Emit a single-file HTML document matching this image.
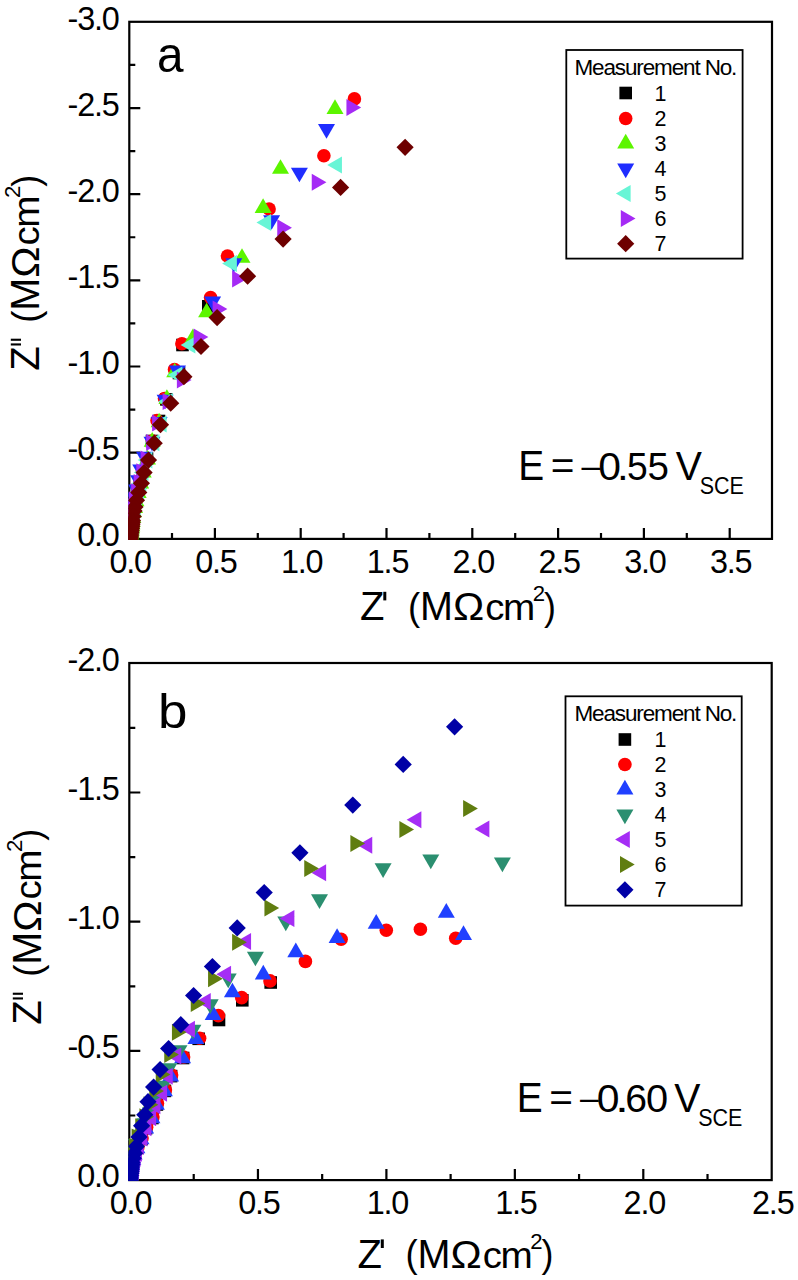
<!DOCTYPE html><html><head><meta charset="utf-8"><style>html,body{margin:0;padding:0;background:#fff;}svg{display:block;}text{font-family:"Liberation Sans", sans-serif;fill:#000;}</style></head><body>
<svg width="798" height="1280" viewBox="0 0 798 1280">
<rect width="798" height="1280" fill="#fff"/>
<defs><clipPath id="clipa"><rect x="128.30" y="20.80" width="644.70" height="519.10"/></clipPath></defs>
<rect x="129.30" y="21.80" width="642.70" height="517.10" fill="none" stroke="#000" stroke-width="2.20"/>
<path d="M172.00 538.90V532.90M214.90 538.90V527.90M257.80 538.90V532.90M300.70 538.90V527.90M343.60 538.90V532.90M386.50 538.90V527.90M429.40 538.90V532.90M472.30 538.90V527.90M515.20 538.90V532.90M558.10 538.90V527.90M601.00 538.90V532.90M643.90 538.90V527.90M686.80 538.90V532.90M729.70 538.90V527.90M129.30 495.72H135.30M129.30 452.65H140.30M129.30 409.57H135.30M129.30 366.50H140.30M129.30 323.42H135.30M129.30 280.35H140.30M129.30 237.27H135.30M129.30 194.20H140.30M129.30 151.12H135.30M129.30 108.05H140.30M129.30 64.97H135.30" stroke="#000" stroke-width="2.20" fill="none"/>
<g clip-path="url(#clipa)">
<rect x="202.00" y="300.00" width="12.60" height="12.60" fill="#000000"/>
<rect x="176.20" y="338.70" width="12.60" height="12.60" fill="#000000"/>
<rect x="172.70" y="366.70" width="12.60" height="12.60" fill="#000000"/>
<rect x="160.10" y="393.10" width="12.60" height="12.60" fill="#000000"/>
<rect x="152.70" y="414.70" width="12.60" height="12.60" fill="#000000"/>
<rect x="145.70" y="434.70" width="12.60" height="12.60" fill="#000000"/>
<rect x="140.70" y="452.30" width="12.60" height="12.60" fill="#000000"/>
<rect x="136.52" y="465.03" width="12.60" height="12.60" fill="#000000"/>
<rect x="134.05" y="475.95" width="12.60" height="12.60" fill="#000000"/>
<rect x="131.60" y="485.20" width="12.60" height="12.60" fill="#000000"/>
<rect x="129.45" y="493.25" width="12.60" height="12.60" fill="#000000"/>
<rect x="128.02" y="499.92" width="12.60" height="12.60" fill="#000000"/>
<rect x="127.10" y="504.10" width="12.60" height="12.60" fill="#000000"/>
<rect x="126.37" y="509.68" width="12.60" height="12.60" fill="#000000"/>
<rect x="125.75" y="513.85" width="12.60" height="12.60" fill="#000000"/>
<rect x="125.58" y="515.97" width="12.60" height="12.60" fill="#000000"/>
<rect x="125.41" y="518.09" width="12.60" height="12.60" fill="#000000"/>
<rect x="125.17" y="520.13" width="12.60" height="12.60" fill="#000000"/>
<rect x="124.92" y="522.18" width="12.60" height="12.60" fill="#000000"/>
<rect x="124.68" y="524.22" width="12.60" height="12.60" fill="#000000"/>
<rect x="124.43" y="526.27" width="12.60" height="12.60" fill="#000000"/>
<rect x="124.19" y="528.31" width="12.60" height="12.60" fill="#000000"/>
<rect x="123.94" y="530.36" width="12.60" height="12.60" fill="#000000"/>
<rect x="123.70" y="532.40" width="12.60" height="12.60" fill="#000000"/>
<circle cx="354.40" cy="98.90" r="6.80" fill="#ff0000"/>
<circle cx="323.90" cy="155.80" r="6.80" fill="#ff0000"/>
<circle cx="269.10" cy="209.00" r="6.80" fill="#ff0000"/>
<circle cx="227.50" cy="256.00" r="6.80" fill="#ff0000"/>
<circle cx="210.60" cy="297.50" r="6.80" fill="#ff0000"/>
<circle cx="181.90" cy="343.80" r="6.80" fill="#ff0000"/>
<circle cx="174.50" cy="369.50" r="6.80" fill="#ff0000"/>
<circle cx="164.50" cy="398.50" r="6.80" fill="#ff0000"/>
<circle cx="157.00" cy="420.50" r="6.80" fill="#ff0000"/>
<circle cx="152.50" cy="441.00" r="6.80" fill="#ff0000"/>
<circle cx="146.50" cy="458.60" r="6.80" fill="#ff0000"/>
<circle cx="142.40" cy="471.33" r="6.80" fill="#ff0000"/>
<circle cx="140.00" cy="482.25" r="6.80" fill="#ff0000"/>
<circle cx="137.60" cy="491.50" r="6.80" fill="#ff0000"/>
<circle cx="135.50" cy="499.55" r="6.80" fill="#ff0000"/>
<circle cx="134.10" cy="506.22" r="6.80" fill="#ff0000"/>
<circle cx="133.20" cy="510.40" r="6.80" fill="#ff0000"/>
<circle cx="132.50" cy="515.98" r="6.80" fill="#ff0000"/>
<circle cx="131.90" cy="520.15" r="6.80" fill="#ff0000"/>
<circle cx="131.76" cy="522.27" r="6.80" fill="#ff0000"/>
<circle cx="131.61" cy="524.39" r="6.80" fill="#ff0000"/>
<circle cx="131.37" cy="526.43" r="6.80" fill="#ff0000"/>
<circle cx="131.12" cy="528.48" r="6.80" fill="#ff0000"/>
<circle cx="130.88" cy="530.52" r="6.80" fill="#ff0000"/>
<circle cx="130.63" cy="532.57" r="6.80" fill="#ff0000"/>
<circle cx="130.39" cy="534.61" r="6.80" fill="#ff0000"/>
<circle cx="130.14" cy="536.66" r="6.80" fill="#ff0000"/>
<circle cx="129.90" cy="538.70" r="6.80" fill="#ff0000"/>
<polygon points="335.00,99.35 343.50,114.05 326.50,114.05" fill="#5cf500"/>
<polygon points="280.50,159.15 289.00,173.85 272.00,173.85" fill="#5cf500"/>
<polygon points="263.10,198.35 271.60,213.05 254.60,213.05" fill="#5cf500"/>
<polygon points="242.00,248.15 250.50,262.85 233.50,262.85" fill="#5cf500"/>
<polygon points="206.60,302.65 215.10,317.35 198.10,317.35" fill="#5cf500"/>
<polygon points="192.90,328.45 201.40,343.15 184.40,343.15" fill="#5cf500"/>
<polygon points="174.70,362.65 183.20,377.35 166.20,377.35" fill="#5cf500"/>
<polygon points="166.90,389.35 175.40,404.05 158.40,404.05" fill="#5cf500"/>
<polygon points="159.10,412.65 167.60,427.35 150.60,427.35" fill="#5cf500"/>
<polygon points="152.20,432.05 160.70,446.75 143.70,446.75" fill="#5cf500"/>
<polygon points="147.50,449.75 156.00,464.45 139.00,464.45" fill="#5cf500"/>
<polygon points="143.25,462.70 151.75,477.40 134.75,477.40" fill="#5cf500"/>
<polygon points="140.70,473.85 149.20,488.55 132.20,488.55" fill="#5cf500"/>
<polygon points="138.20,483.25 146.70,497.95 129.70,497.95" fill="#5cf500"/>
<polygon points="136.00,491.45 144.50,506.15 127.50,506.15" fill="#5cf500"/>
<polygon points="134.55,498.20 143.05,512.90 126.05,512.90" fill="#5cf500"/>
<polygon points="133.60,502.45 142.10,517.15 125.10,517.15" fill="#5cf500"/>
<polygon points="132.85,508.10 141.35,522.80 124.35,522.80" fill="#5cf500"/>
<polygon points="132.20,512.35 140.70,527.05 123.70,527.05" fill="#5cf500"/>
<polygon points="132.01,514.54 140.51,529.24 123.51,529.24" fill="#5cf500"/>
<polygon points="131.81,516.74 140.31,531.44 123.31,531.44" fill="#5cf500"/>
<polygon points="131.57,518.78 140.07,533.48 123.07,533.48" fill="#5cf500"/>
<polygon points="131.32,520.83 139.82,535.53 122.82,535.53" fill="#5cf500"/>
<polygon points="131.08,522.87 139.58,537.57 122.58,537.57" fill="#5cf500"/>
<polygon points="130.83,524.92 139.33,539.62 122.33,539.62" fill="#5cf500"/>
<polygon points="130.59,526.96 139.09,541.66 122.09,541.66" fill="#5cf500"/>
<polygon points="130.34,529.01 138.84,543.71 121.84,543.71" fill="#5cf500"/>
<polygon points="130.10,531.05 138.60,545.75 121.60,545.75" fill="#5cf500"/>
<polygon points="318.00,124.05 335.00,124.05 326.50,138.75" fill="#1f2dff"/>
<polygon points="290.90,167.65 307.90,167.65 299.40,182.35" fill="#1f2dff"/>
<polygon points="263.10,215.15 280.10,215.15 271.60,229.85" fill="#1f2dff"/>
<polygon points="225.30,258.15 242.30,258.15 233.80,272.85" fill="#1f2dff"/>
<polygon points="204.10,296.45 221.10,296.45 212.60,311.15" fill="#1f2dff"/>
<polygon points="169.00,365.45 186.00,365.45 177.50,380.15" fill="#1f2dff"/>
<polygon points="156.60,394.65 173.60,394.65 165.10,409.35" fill="#1f2dff"/>
<polygon points="150.60,417.05 167.60,417.05 159.10,431.75" fill="#1f2dff"/>
<polygon points="143.50,436.65 160.50,436.65 152.00,451.35" fill="#1f2dff"/>
<polygon points="136.00,451.75 153.00,451.75 144.50,466.45" fill="#1f2dff"/>
<polygon points="132.20,464.40 149.20,464.40 140.70,479.10" fill="#1f2dff"/>
<polygon points="130.10,475.25 147.10,475.25 138.60,489.95" fill="#1f2dff"/>
<polygon points="127.90,484.45 144.90,484.45 136.40,499.15" fill="#1f2dff"/>
<polygon points="126.00,492.45 143.00,492.45 134.50,507.15" fill="#1f2dff"/>
<polygon points="124.70,499.10 141.70,499.10 133.20,513.80" fill="#1f2dff"/>
<polygon points="123.90,503.25 140.90,503.25 132.40,517.95" fill="#1f2dff"/>
<polygon points="123.30,508.80 140.30,508.80 131.80,523.50" fill="#1f2dff"/>
<polygon points="122.80,512.95 139.80,512.95 131.30,527.65" fill="#1f2dff"/>
<polygon points="122.76,515.04 139.76,515.04 131.26,529.74" fill="#1f2dff"/>
<polygon points="122.71,517.14 139.71,517.14 131.21,531.84" fill="#1f2dff"/>
<polygon points="122.47,519.18 139.47,519.18 130.97,533.88" fill="#1f2dff"/>
<polygon points="122.22,521.23 139.22,521.23 130.72,535.93" fill="#1f2dff"/>
<polygon points="121.98,523.27 138.98,523.27 130.48,537.97" fill="#1f2dff"/>
<polygon points="121.73,525.32 138.73,525.32 130.23,540.02" fill="#1f2dff"/>
<polygon points="121.49,527.36 138.49,527.36 129.99,542.06" fill="#1f2dff"/>
<polygon points="121.24,529.41 138.24,529.41 129.74,544.11" fill="#1f2dff"/>
<polygon points="121.00,531.45 138.00,531.45 129.50,546.15" fill="#1f2dff"/>
<polygon points="327.25,165.00 341.95,156.50 341.95,173.50" fill="#68f5d6"/>
<polygon points="256.45,222.60 271.15,214.10 271.15,231.10" fill="#68f5d6"/>
<polygon points="222.15,263.50 236.85,255.00 236.85,272.00" fill="#68f5d6"/>
<polygon points="180.65,345.00 195.35,336.50 195.35,353.50" fill="#68f5d6"/>
<polygon points="167.65,375.00 182.35,366.50 182.35,383.50" fill="#68f5d6"/>
<polygon points="158.15,401.60 172.85,393.10 172.85,410.10" fill="#68f5d6"/>
<polygon points="151.95,424.00 166.65,415.50 166.65,432.50" fill="#68f5d6"/>
<polygon points="144.65,442.70 159.35,434.20 159.35,451.20" fill="#68f5d6"/>
<polygon points="137.65,460.10 152.35,451.60 152.35,468.60" fill="#68f5d6"/>
<polygon points="133.78,472.60 148.47,464.10 148.47,481.10" fill="#68f5d6"/>
<polygon points="131.60,483.30 146.30,474.80 146.30,491.80" fill="#68f5d6"/>
<polygon points="129.35,492.40 144.05,483.90 144.05,500.90" fill="#68f5d6"/>
<polygon points="127.40,500.30 142.10,491.80 142.10,508.80" fill="#68f5d6"/>
<polygon points="126.08,506.90 140.78,498.40 140.78,515.40" fill="#68f5d6"/>
<polygon points="125.25,511.00 139.95,502.50 139.95,519.50" fill="#68f5d6"/>
<polygon points="124.62,516.50 139.32,508.00 139.32,525.00" fill="#68f5d6"/>
<polygon points="124.10,520.60 138.80,512.10 138.80,529.10" fill="#68f5d6"/>
<polygon points="124.03,522.64 138.73,514.14 138.73,531.14" fill="#68f5d6"/>
<polygon points="123.96,524.69 138.66,516.19 138.66,533.19" fill="#68f5d6"/>
<polygon points="123.72,526.73 138.42,518.23 138.42,535.23" fill="#68f5d6"/>
<polygon points="123.47,528.78 138.17,520.28 138.17,537.28" fill="#68f5d6"/>
<polygon points="123.23,530.82 137.93,522.32 137.93,539.32" fill="#68f5d6"/>
<polygon points="122.98,532.87 137.68,524.37 137.68,541.37" fill="#68f5d6"/>
<polygon points="122.74,534.91 137.44,526.41 137.44,543.41" fill="#68f5d6"/>
<polygon points="122.49,536.96 137.19,528.46 137.19,545.46" fill="#68f5d6"/>
<polygon points="122.25,539.00 136.95,530.50 136.95,547.50" fill="#68f5d6"/>
<polygon points="346.45,98.90 361.15,107.40 346.45,115.90" fill="#a52af5"/>
<polygon points="311.75,173.80 326.45,182.30 311.75,190.80" fill="#a52af5"/>
<polygon points="277.25,219.30 291.95,227.80 277.25,236.30" fill="#a52af5"/>
<polygon points="232.15,270.50 246.85,279.00 232.15,287.50" fill="#a52af5"/>
<polygon points="212.65,300.50 227.35,309.00 212.65,317.50" fill="#a52af5"/>
<polygon points="193.65,328.50 208.35,337.00 193.65,345.50" fill="#a52af5"/>
<polygon points="176.85,371.40 191.55,379.90 176.85,388.40" fill="#a52af5"/>
<polygon points="162.65,393.10 177.35,401.60 162.65,410.10" fill="#a52af5"/>
<polygon points="152.15,414.50 166.85,423.00 152.15,431.50" fill="#a52af5"/>
<polygon points="146.15,434.00 160.85,442.50 146.15,451.00" fill="#a52af5"/>
<polygon points="140.65,450.60 155.35,459.10 140.65,467.60" fill="#a52af5"/>
<polygon points="136.32,463.25 151.02,471.75 136.32,480.25" fill="#a52af5"/>
<polygon points="133.70,474.10 148.40,482.60 133.70,491.10" fill="#a52af5"/>
<polygon points="131.15,483.30 145.85,491.80 131.15,500.30" fill="#a52af5"/>
<polygon points="128.90,491.30 143.60,499.80 128.90,508.30" fill="#a52af5"/>
<polygon points="127.43,497.95 142.12,506.45 127.43,514.95" fill="#a52af5"/>
<polygon points="126.45,502.10 141.15,510.60 126.45,519.10" fill="#a52af5"/>
<polygon points="125.67,507.65 140.37,516.15 125.67,524.65" fill="#a52af5"/>
<polygon points="125.00,511.80 139.70,520.30 125.00,528.80" fill="#a52af5"/>
<polygon points="124.78,513.89 139.48,522.39 124.78,530.89" fill="#a52af5"/>
<polygon points="124.56,515.99 139.26,524.49 124.56,532.99" fill="#a52af5"/>
<polygon points="124.32,518.03 139.02,526.53 124.32,535.03" fill="#a52af5"/>
<polygon points="124.07,520.08 138.77,528.58 124.07,537.08" fill="#a52af5"/>
<polygon points="123.83,522.12 138.53,530.62 123.83,539.12" fill="#a52af5"/>
<polygon points="123.58,524.17 138.28,532.67 123.58,541.17" fill="#a52af5"/>
<polygon points="123.34,526.21 138.04,534.71 123.34,543.21" fill="#a52af5"/>
<polygon points="123.09,528.26 137.79,536.76 123.09,545.26" fill="#a52af5"/>
<polygon points="122.85,530.30 137.55,538.80 122.85,547.30" fill="#a52af5"/>
<polygon points="405.10,138.70 413.70,147.30 405.10,155.90 396.50,147.30" fill="#6e0000"/>
<polygon points="340.60,178.80 349.20,187.40 340.60,196.00 332.00,187.40" fill="#6e0000"/>
<polygon points="283.10,230.50 291.70,239.10 283.10,247.70 274.50,239.10" fill="#6e0000"/>
<polygon points="247.60,267.60 256.20,276.20 247.60,284.80 239.00,276.20" fill="#6e0000"/>
<polygon points="217.10,309.00 225.70,317.60 217.10,326.20 208.50,317.60" fill="#6e0000"/>
<polygon points="201.00,337.90 209.60,346.50 201.00,355.10 192.40,346.50" fill="#6e0000"/>
<polygon points="183.90,368.10 192.50,376.70 183.90,385.30 175.30,376.70" fill="#6e0000"/>
<polygon points="170.70,394.60 179.30,403.20 170.70,411.80 162.10,403.20" fill="#6e0000"/>
<polygon points="160.50,416.10 169.10,424.70 160.50,433.30 151.90,424.70" fill="#6e0000"/>
<polygon points="154.20,434.60 162.80,443.20 154.20,451.80 145.60,443.20" fill="#6e0000"/>
<polygon points="148.50,451.50 157.10,460.10 148.50,468.70 139.90,460.10" fill="#6e0000"/>
<polygon points="144.10,464.00 152.70,472.60 144.10,481.20 135.50,472.60" fill="#6e0000"/>
<polygon points="141.40,474.70 150.00,483.30 141.40,491.90 132.80,483.30" fill="#6e0000"/>
<polygon points="138.80,483.80 147.40,492.40 138.80,501.00 130.20,492.40" fill="#6e0000"/>
<polygon points="136.50,491.70 145.10,500.30 136.50,508.90 127.90,500.30" fill="#6e0000"/>
<polygon points="135.00,498.30 143.60,506.90 135.00,515.50 126.40,506.90" fill="#6e0000"/>
<polygon points="134.00,502.40 142.60,511.00 134.00,519.60 125.40,511.00" fill="#6e0000"/>
<polygon points="133.20,507.90 141.80,516.50 133.20,525.10 124.60,516.50" fill="#6e0000"/>
<polygon points="132.50,512.00 141.10,520.60 132.50,529.20 123.90,520.60" fill="#6e0000"/>
<polygon points="132.26,514.04 140.86,522.64 132.26,531.24 123.66,522.64" fill="#6e0000"/>
<polygon points="132.01,516.09 140.61,524.69 132.01,533.29 123.41,524.69" fill="#6e0000"/>
<polygon points="131.77,518.13 140.37,526.73 131.77,535.33 123.17,526.73" fill="#6e0000"/>
<polygon points="131.52,520.18 140.12,528.78 131.52,537.38 122.92,528.78" fill="#6e0000"/>
<polygon points="131.28,522.22 139.88,530.82 131.28,539.42 122.68,530.82" fill="#6e0000"/>
<polygon points="131.03,524.27 139.63,532.87 131.03,541.47 122.43,532.87" fill="#6e0000"/>
<polygon points="130.79,526.31 139.39,534.91 130.79,543.51 122.19,534.91" fill="#6e0000"/>
<polygon points="130.54,528.36 139.14,536.96 130.54,545.56 121.94,536.96" fill="#6e0000"/>
<polygon points="130.30,530.40 138.90,539.00 130.30,547.60 121.70,539.00" fill="#6e0000"/>
</g>
<text x="118.60" y="29.50" font-size="32.40" letter-spacing="-1.20" text-anchor="end">-3.0</text>
<text x="118.60" y="115.65" font-size="32.40" letter-spacing="-1.20" text-anchor="end">-2.5</text>
<text x="118.60" y="201.80" font-size="32.40" letter-spacing="-1.20" text-anchor="end">-2.0</text>
<text x="118.60" y="287.95" font-size="32.40" letter-spacing="-1.20" text-anchor="end">-1.5</text>
<text x="118.60" y="374.10" font-size="32.40" letter-spacing="-1.20" text-anchor="end">-1.0</text>
<text x="118.60" y="460.25" font-size="32.40" letter-spacing="-1.20" text-anchor="end">-0.5</text>
<text x="118.60" y="546.40" font-size="32.40" letter-spacing="-1.20" text-anchor="end">0.0</text>
<text x="130.10" y="572.80" font-size="32.40" letter-spacing="-1.20" text-anchor="middle">0.0</text>
<text x="215.90" y="572.80" font-size="32.40" letter-spacing="-1.20" text-anchor="middle">0.5</text>
<text x="301.70" y="572.80" font-size="32.40" letter-spacing="-1.20" text-anchor="middle">1.0</text>
<text x="387.50" y="572.80" font-size="32.40" letter-spacing="-1.20" text-anchor="middle">1.5</text>
<text x="473.30" y="572.80" font-size="32.40" letter-spacing="-1.20" text-anchor="middle">2.0</text>
<text x="559.10" y="572.80" font-size="32.40" letter-spacing="-1.20" text-anchor="middle">2.5</text>
<text x="644.90" y="572.80" font-size="32.40" letter-spacing="-1.20" text-anchor="middle">3.0</text>
<text x="730.70" y="572.80" font-size="32.40" letter-spacing="-1.20" text-anchor="middle">3.5</text>
<text transform="translate(360.10,620.00) scale(0.9787,1)" font-size="40.87">Z</text>
<rect x="383.30" y="591.80" width="3.0" height="8.6"/>
<text transform="translate(408.11,619.85) scale(0.9410,1)" font-size="38.83">(</text>
<text transform="translate(419.94,620.00) scale(0.9924,1)" font-size="39.86">M</text>
<text transform="translate(453.03,620.00) scale(1.0762,1)" font-size="38.86">&#937;</text>
<text transform="translate(485.27,619.92) scale(1.0146,1)" font-size="37.82">c</text>
<text transform="translate(502.99,620.00) scale(1.0298,1)" font-size="37.59">m</text>
<text transform="translate(532.69,601.00) scale(1.0145,1)" font-size="21.86">2</text>
<text transform="translate(543.94,619.85) scale(0.9212,1)" font-size="38.83">)</text>
<g transform="translate(39.00,369.50) rotate(-90)">
<text transform="translate(-1.20,0.00) scale(0.9787,1)" font-size="40.87">Z</text>
<rect x="24.00" y="-28.20" width="2.1" height="10.2"/>
<rect x="28.70" y="-28.20" width="2.1" height="10.2"/>
<text transform="translate(46.81,-0.15) scale(0.9410,1)" font-size="38.83">(</text>
<text transform="translate(58.64,0.00) scale(0.9924,1)" font-size="39.86">M</text>
<text transform="translate(91.73,0.00) scale(1.0762,1)" font-size="38.86">&#937;</text>
<text transform="translate(123.97,-0.08) scale(1.0146,1)" font-size="37.82">c</text>
<text transform="translate(141.69,0.00) scale(1.0298,1)" font-size="37.59">m</text>
<text transform="translate(171.39,-19.00) scale(1.0145,1)" font-size="21.86">2</text>
<text transform="translate(182.64,-0.15) scale(0.9212,1)" font-size="38.83">)</text>
</g>
<text transform="translate(156.89,71.99) scale(0.9436,1)" font-size="50.55">a</text>
<text transform="translate(518.19,480.00) scale(0.9285,1)" font-size="41.88">E</text>
<text transform="translate(550.87,479.03) scale(1.0569,1)" font-size="38.44">=</text>
<text transform="translate(581.40,477.23) scale(1.0217,1)" font-size="32.86">&#8211;</text>
<text transform="translate(598.37,479.91) scale(1.0504,1)" font-size="38.87">0</text>
<text transform="translate(617.12,480.00) scale(1.1000,1)" font-size="38.18">.</text>
<text transform="translate(627.11,479.91) scale(0.9443,1)" font-size="39.43">5</text>
<text transform="translate(647.56,479.91) scale(0.9767,1)" font-size="39.43">5</text>
<text transform="translate(675.71,480.00) scale(0.9465,1)" font-size="41.45">V</text>
<text transform="translate(699.63,494.16) scale(0.9132,1)" font-size="23.52">SCE</text>
<rect x="566.30" y="50.00" width="176.30" height="208.60" fill="#fff" stroke="#000" stroke-width="1.8"/>
<text x="574.50" y="74.80" font-size="22.50" letter-spacing="-1.14">Measurement No.</text>
<text x="654.50" y="100.50" font-size="21.50">1</text>
<text x="654.50" y="126.00" font-size="21.50">2</text>
<text x="654.50" y="151.00" font-size="21.50">3</text>
<text x="654.50" y="176.00" font-size="21.50">4</text>
<text x="654.50" y="201.00" font-size="21.50">5</text>
<text x="654.50" y="226.00" font-size="21.50">6</text>
<text x="654.50" y="251.20" font-size="21.50">7</text>
<rect x="619.40" y="86.70" width="12.60" height="12.60" fill="#000000"/>
<circle cx="625.70" cy="118.50" r="6.80" fill="#ff0000"/>
<polygon points="625.70,133.70 634.20,148.40 617.20,148.40" fill="#5cf500"/>
<polygon points="617.20,163.60 634.20,163.60 625.70,178.30" fill="#1f2dff"/>
<polygon points="615.90,193.50 630.60,185.00 630.60,202.00" fill="#68f5d6"/>
<polygon points="620.80,210.00 635.50,218.50 620.80,227.00" fill="#a52af5"/>
<polygon points="625.70,235.10 634.30,243.70 625.70,252.30 617.10,243.70" fill="#6e0000"/>
<defs><clipPath id="clipb"><rect x="128.30" y="662.00" width="644.40" height="519.10"/></clipPath></defs>
<rect x="129.30" y="663.00" width="642.40" height="517.10" fill="none" stroke="#000" stroke-width="2.20"/>
<path d="M193.72 1180.10V1174.10M257.95 1180.10V1169.10M322.17 1180.10V1174.10M386.40 1180.10V1169.10M450.62 1180.10V1174.10M514.85 1180.10V1169.10M579.07 1180.10V1174.10M643.30 1180.10V1169.10M707.52 1180.10V1174.10M129.30 1115.50H135.30M129.30 1050.90H140.30M129.30 986.30H135.30M129.30 921.70H140.30M129.30 857.10H135.30M129.30 792.50H140.30M129.30 727.90H135.30" stroke="#000" stroke-width="2.20" fill="none"/>
<g clip-path="url(#clipb)">
<rect x="264.40" y="976.20" width="12.60" height="12.60" fill="#000000"/>
<rect x="236.00" y="994.00" width="12.60" height="12.60" fill="#000000"/>
<rect x="212.70" y="1013.70" width="12.60" height="12.60" fill="#000000"/>
<rect x="192.40" y="1032.50" width="12.60" height="12.60" fill="#000000"/>
<rect x="176.80" y="1051.70" width="12.60" height="12.60" fill="#000000"/>
<rect x="164.80" y="1069.80" width="12.60" height="12.60" fill="#000000"/>
<rect x="158.60" y="1084.60" width="12.60" height="12.60" fill="#000000"/>
<rect x="150.60" y="1098.20" width="12.60" height="12.60" fill="#000000"/>
<rect x="146.10" y="1111.70" width="12.60" height="12.60" fill="#000000"/>
<rect x="139.80" y="1121.90" width="12.60" height="12.60" fill="#000000"/>
<rect x="135.20" y="1132.70" width="12.60" height="12.60" fill="#000000"/>
<rect x="131.10" y="1141.60" width="12.60" height="12.60" fill="#000000"/>
<rect x="128.30" y="1147.90" width="12.60" height="12.60" fill="#000000"/>
<rect x="127.00" y="1153.00" width="12.60" height="12.60" fill="#000000"/>
<rect x="125.80" y="1157.30" width="12.60" height="12.60" fill="#000000"/>
<rect x="125.56" y="1159.50" width="12.60" height="12.60" fill="#000000"/>
<rect x="125.33" y="1161.70" width="12.60" height="12.60" fill="#000000"/>
<rect x="125.09" y="1163.90" width="12.60" height="12.60" fill="#000000"/>
<rect x="124.85" y="1166.10" width="12.60" height="12.60" fill="#000000"/>
<rect x="124.61" y="1168.30" width="12.60" height="12.60" fill="#000000"/>
<rect x="124.37" y="1170.50" width="12.60" height="12.60" fill="#000000"/>
<rect x="124.14" y="1172.70" width="12.60" height="12.60" fill="#000000"/>
<rect x="123.90" y="1174.90" width="12.60" height="12.60" fill="#000000"/>
<circle cx="455.70" cy="938.30" r="6.80" fill="#ff0000"/>
<circle cx="420.40" cy="929.20" r="6.80" fill="#ff0000"/>
<circle cx="386.30" cy="930.20" r="6.80" fill="#ff0000"/>
<circle cx="341.10" cy="939.20" r="6.80" fill="#ff0000"/>
<circle cx="305.40" cy="961.40" r="6.80" fill="#ff0000"/>
<circle cx="270.00" cy="980.90" r="6.80" fill="#ff0000"/>
<circle cx="241.70" cy="997.60" r="6.80" fill="#ff0000"/>
<circle cx="218.40" cy="1015.60" r="6.80" fill="#ff0000"/>
<circle cx="199.60" cy="1038.20" r="6.80" fill="#ff0000"/>
<circle cx="183.60" cy="1057.00" r="6.80" fill="#ff0000"/>
<circle cx="171.60" cy="1075.10" r="6.80" fill="#ff0000"/>
<circle cx="165.40" cy="1089.90" r="6.80" fill="#ff0000"/>
<circle cx="157.40" cy="1103.50" r="6.80" fill="#ff0000"/>
<circle cx="152.90" cy="1117.00" r="6.80" fill="#ff0000"/>
<circle cx="146.60" cy="1127.20" r="6.80" fill="#ff0000"/>
<circle cx="142.00" cy="1138.00" r="6.80" fill="#ff0000"/>
<circle cx="137.90" cy="1146.90" r="6.80" fill="#ff0000"/>
<circle cx="135.10" cy="1153.20" r="6.80" fill="#ff0000"/>
<circle cx="133.80" cy="1158.30" r="6.80" fill="#ff0000"/>
<circle cx="132.60" cy="1162.60" r="6.80" fill="#ff0000"/>
<circle cx="132.36" cy="1164.80" r="6.80" fill="#ff0000"/>
<circle cx="132.12" cy="1167.00" r="6.80" fill="#ff0000"/>
<circle cx="131.89" cy="1169.20" r="6.80" fill="#ff0000"/>
<circle cx="131.65" cy="1171.40" r="6.80" fill="#ff0000"/>
<circle cx="131.41" cy="1173.60" r="6.80" fill="#ff0000"/>
<circle cx="131.17" cy="1175.80" r="6.80" fill="#ff0000"/>
<circle cx="130.94" cy="1178.00" r="6.80" fill="#ff0000"/>
<circle cx="130.70" cy="1180.20" r="6.80" fill="#ff0000"/>
<polygon points="463.50,925.25 472.00,939.95 455.00,939.95" fill="#2040ff"/>
<polygon points="446.30,902.95 454.80,917.65 437.80,917.65" fill="#2040ff"/>
<polygon points="376.20,914.05 384.70,928.75 367.70,928.75" fill="#2040ff"/>
<polygon points="337.10,928.25 345.60,942.95 328.60,942.95" fill="#2040ff"/>
<polygon points="295.80,942.45 304.30,957.15 287.30,957.15" fill="#2040ff"/>
<polygon points="263.30,964.75 271.80,979.45 254.80,979.45" fill="#2040ff"/>
<polygon points="232.40,982.65 240.90,997.35 223.90,997.35" fill="#2040ff"/>
<polygon points="213.20,1005.25 221.70,1019.95 204.70,1019.95" fill="#2040ff"/>
<polygon points="195.90,1029.35 204.40,1044.05 187.40,1044.05" fill="#2040ff"/>
<polygon points="182.60,1048.65 191.10,1063.35 174.10,1063.35" fill="#2040ff"/>
<polygon points="170.60,1066.75 179.10,1081.45 162.10,1081.45" fill="#2040ff"/>
<polygon points="164.40,1081.55 172.90,1096.25 155.90,1096.25" fill="#2040ff"/>
<polygon points="156.40,1095.15 164.90,1109.85 147.90,1109.85" fill="#2040ff"/>
<polygon points="151.90,1108.65 160.40,1123.35 143.40,1123.35" fill="#2040ff"/>
<polygon points="145.60,1118.85 154.10,1133.55 137.10,1133.55" fill="#2040ff"/>
<polygon points="141.00,1129.65 149.50,1144.35 132.50,1144.35" fill="#2040ff"/>
<polygon points="136.90,1138.55 145.40,1153.25 128.40,1153.25" fill="#2040ff"/>
<polygon points="134.10,1144.85 142.60,1159.55 125.60,1159.55" fill="#2040ff"/>
<polygon points="132.80,1149.95 141.30,1164.65 124.30,1164.65" fill="#2040ff"/>
<polygon points="131.60,1154.25 140.10,1168.95 123.10,1168.95" fill="#2040ff"/>
<polygon points="131.36,1156.45 139.86,1171.15 122.86,1171.15" fill="#2040ff"/>
<polygon points="131.12,1158.65 139.62,1173.35 122.62,1173.35" fill="#2040ff"/>
<polygon points="130.89,1160.85 139.39,1175.55 122.39,1175.55" fill="#2040ff"/>
<polygon points="130.65,1163.05 139.15,1177.75 122.15,1177.75" fill="#2040ff"/>
<polygon points="130.41,1165.25 138.91,1179.95 121.91,1179.95" fill="#2040ff"/>
<polygon points="130.17,1167.45 138.67,1182.15 121.67,1182.15" fill="#2040ff"/>
<polygon points="129.94,1169.65 138.44,1184.35 121.44,1184.35" fill="#2040ff"/>
<polygon points="129.70,1171.85 138.20,1186.55 121.20,1186.55" fill="#2040ff"/>
<polygon points="493.90,857.55 510.90,857.55 502.40,872.25" fill="#2b8f70"/>
<polygon points="422.30,854.55 439.30,854.55 430.80,869.25" fill="#2b8f70"/>
<polygon points="374.60,863.35 391.60,863.35 383.10,878.05" fill="#2b8f70"/>
<polygon points="311.00,894.35 328.00,894.35 319.50,909.05" fill="#2b8f70"/>
<polygon points="277.30,916.55 294.30,916.55 285.80,931.25" fill="#2b8f70"/>
<polygon points="246.90,951.65 263.90,951.65 255.40,966.35" fill="#2b8f70"/>
<polygon points="219.70,973.45 236.70,973.45 228.20,988.15" fill="#2b8f70"/>
<polygon points="201.70,999.25 218.70,999.25 210.20,1013.95" fill="#2b8f70"/>
<polygon points="184.40,1024.85 201.40,1024.85 192.90,1039.55" fill="#2b8f70"/>
<polygon points="170.50,1045.15 187.50,1045.15 179.00,1059.85" fill="#2b8f70"/>
<polygon points="160.30,1063.25 177.30,1063.25 168.80,1077.95" fill="#2b8f70"/>
<polygon points="154.10,1080.75 171.10,1080.75 162.60,1095.45" fill="#2b8f70"/>
<polygon points="146.50,1094.85 163.50,1094.85 155.00,1109.55" fill="#2b8f70"/>
<polygon points="141.80,1107.45 158.80,1107.45 150.30,1122.15" fill="#2b8f70"/>
<polygon points="136.10,1118.35 153.10,1118.35 144.60,1133.05" fill="#2b8f70"/>
<polygon points="132.00,1129.65 149.00,1129.65 140.50,1144.35" fill="#2b8f70"/>
<polygon points="127.90,1139.05 144.90,1139.05 136.40,1153.75" fill="#2b8f70"/>
<polygon points="126.10,1145.85 143.10,1145.85 134.60,1160.55" fill="#2b8f70"/>
<polygon points="124.80,1150.95 141.80,1150.95 133.30,1165.65" fill="#2b8f70"/>
<polygon points="123.60,1155.25 140.60,1155.25 132.10,1169.95" fill="#2b8f70"/>
<polygon points="123.36,1157.45 140.36,1157.45 131.86,1172.15" fill="#2b8f70"/>
<polygon points="123.12,1159.65 140.12,1159.65 131.62,1174.35" fill="#2b8f70"/>
<polygon points="122.89,1161.85 139.89,1161.85 131.39,1176.55" fill="#2b8f70"/>
<polygon points="122.65,1164.05 139.65,1164.05 131.15,1178.75" fill="#2b8f70"/>
<polygon points="122.41,1166.25 139.41,1166.25 130.91,1180.95" fill="#2b8f70"/>
<polygon points="122.17,1168.45 139.17,1168.45 130.67,1183.15" fill="#2b8f70"/>
<polygon points="121.94,1170.65 138.94,1170.65 130.44,1185.35" fill="#2b8f70"/>
<polygon points="121.70,1172.85 138.70,1172.85 130.20,1187.55" fill="#2b8f70"/>
<polygon points="474.65,829.00 489.35,820.50 489.35,837.50" fill="#a52df5"/>
<polygon points="406.65,819.80 421.35,811.30 421.35,828.30" fill="#a52df5"/>
<polygon points="357.55,845.30 372.25,836.80 372.25,853.80" fill="#a52df5"/>
<polygon points="311.45,872.70 326.15,864.20 326.15,881.20" fill="#a52df5"/>
<polygon points="279.65,918.60 294.35,910.10 294.35,927.10" fill="#a52df5"/>
<polygon points="236.35,941.40 251.05,932.90 251.05,949.90" fill="#a52df5"/>
<polygon points="216.35,974.30 231.05,965.80 231.05,982.80" fill="#a52df5"/>
<polygon points="196.05,1001.40 210.75,992.90 210.75,1009.90" fill="#a52df5"/>
<polygon points="180.25,1029.20 194.95,1020.70 194.95,1037.70" fill="#a52df5"/>
<polygon points="166.55,1055.90 181.25,1047.40 181.25,1064.40" fill="#a52df5"/>
<polygon points="158.05,1076.30 172.75,1067.80 172.75,1084.80" fill="#a52df5"/>
<polygon points="152.35,1093.30 167.05,1084.80 167.05,1101.80" fill="#a52df5"/>
<polygon points="145.65,1105.70 160.35,1097.20 160.35,1114.20" fill="#a52df5"/>
<polygon points="141.45,1117.80 156.15,1109.30 156.15,1126.30" fill="#a52df5"/>
<polygon points="136.75,1127.70 151.45,1119.20 151.45,1136.20" fill="#a52df5"/>
<polygon points="132.65,1138.00 147.35,1129.50 147.35,1146.50" fill="#a52df5"/>
<polygon points="129.05,1146.40 143.75,1137.90 143.75,1154.90" fill="#a52df5"/>
<polygon points="127.25,1153.20 141.95,1144.70 141.95,1161.70" fill="#a52df5"/>
<polygon points="125.95,1158.30 140.65,1149.80 140.65,1166.80" fill="#a52df5"/>
<polygon points="124.75,1162.60 139.45,1154.10 139.45,1171.10" fill="#a52df5"/>
<polygon points="124.51,1164.80 139.21,1156.30 139.21,1173.30" fill="#a52df5"/>
<polygon points="124.28,1167.00 138.97,1158.50 138.97,1175.50" fill="#a52df5"/>
<polygon points="124.04,1169.20 138.74,1160.70 138.74,1177.70" fill="#a52df5"/>
<polygon points="123.80,1171.40 138.50,1162.90 138.50,1179.90" fill="#a52df5"/>
<polygon points="123.56,1173.60 138.26,1165.10 138.26,1182.10" fill="#a52df5"/>
<polygon points="123.32,1175.80 138.02,1167.30 138.02,1184.30" fill="#a52df5"/>
<polygon points="123.09,1178.00 137.79,1169.50 137.79,1186.50" fill="#a52df5"/>
<polygon points="122.85,1180.20 137.55,1171.70 137.55,1188.70" fill="#a52df5"/>
<polygon points="463.15,800.00 477.85,808.50 463.15,817.00" fill="#607d10"/>
<polygon points="399.35,821.10 414.05,829.60 399.35,838.10" fill="#607d10"/>
<polygon points="350.35,835.00 365.05,843.50 350.35,852.00" fill="#607d10"/>
<polygon points="304.25,860.00 318.95,868.50 304.25,877.00" fill="#607d10"/>
<polygon points="264.45,899.60 279.15,908.10 264.45,916.60" fill="#607d10"/>
<polygon points="232.15,933.80 246.85,942.30 232.15,950.80" fill="#607d10"/>
<polygon points="208.05,970.30 222.75,978.80 208.05,987.30" fill="#607d10"/>
<polygon points="190.75,995.10 205.45,1003.60 190.75,1012.10" fill="#607d10"/>
<polygon points="171.95,1023.70 186.65,1032.20 171.95,1040.70" fill="#607d10"/>
<polygon points="164.25,1046.00 178.95,1054.50 164.25,1063.00" fill="#607d10"/>
<polygon points="155.75,1066.10 170.45,1074.60 155.75,1083.10" fill="#607d10"/>
<polygon points="149.25,1082.60 163.95,1091.10 149.25,1099.60" fill="#607d10"/>
<polygon points="143.65,1096.20 158.35,1104.70 143.65,1113.20" fill="#607d10"/>
<polygon points="139.45,1108.30 154.15,1116.80 139.45,1125.30" fill="#607d10"/>
<polygon points="135.25,1118.20 149.95,1126.70 135.25,1135.20" fill="#607d10"/>
<polygon points="131.65,1128.50 146.35,1137.00 131.65,1145.50" fill="#607d10"/>
<polygon points="129.05,1137.90 143.75,1146.40 129.05,1154.90" fill="#607d10"/>
<polygon points="127.25,1144.70 141.95,1153.20 127.25,1161.70" fill="#607d10"/>
<polygon points="125.95,1149.80 140.65,1158.30 125.95,1166.80" fill="#607d10"/>
<polygon points="124.75,1154.10 139.45,1162.60 124.75,1171.10" fill="#607d10"/>
<polygon points="124.51,1156.30 139.21,1164.80 124.51,1173.30" fill="#607d10"/>
<polygon points="124.28,1158.50 138.97,1167.00 124.28,1175.50" fill="#607d10"/>
<polygon points="124.04,1160.70 138.74,1169.20 124.04,1177.70" fill="#607d10"/>
<polygon points="123.80,1162.90 138.50,1171.40 123.80,1179.90" fill="#607d10"/>
<polygon points="123.56,1165.10 138.26,1173.60 123.56,1182.10" fill="#607d10"/>
<polygon points="123.32,1167.30 138.02,1175.80 123.32,1184.30" fill="#607d10"/>
<polygon points="123.09,1169.50 137.79,1178.00 123.09,1186.50" fill="#607d10"/>
<polygon points="122.85,1171.70 137.55,1180.20 122.85,1188.70" fill="#607d10"/>
<polygon points="454.60,718.20 463.20,726.80 454.60,735.40 446.00,726.80" fill="#0000a6"/>
<polygon points="403.20,755.80 411.80,764.40 403.20,773.00 394.60,764.40" fill="#0000a6"/>
<polygon points="352.80,796.50 361.40,805.10 352.80,813.70 344.20,805.10" fill="#0000a6"/>
<polygon points="299.90,844.20 308.50,852.80 299.90,861.40 291.30,852.80" fill="#0000a6"/>
<polygon points="264.20,884.00 272.80,892.60 264.20,901.20 255.60,892.60" fill="#0000a6"/>
<polygon points="237.20,919.30 245.80,927.90 237.20,936.50 228.60,927.90" fill="#0000a6"/>
<polygon points="212.40,957.90 221.00,966.50 212.40,975.10 203.80,966.50" fill="#0000a6"/>
<polygon points="193.60,986.90 202.20,995.50 193.60,1004.10 185.00,995.50" fill="#0000a6"/>
<polygon points="180.80,1016.10 189.40,1024.70 180.80,1033.30 172.20,1024.70" fill="#0000a6"/>
<polygon points="168.60,1039.90 177.20,1048.50 168.60,1057.10 160.00,1048.50" fill="#0000a6"/>
<polygon points="160.10,1061.00 168.70,1069.60 160.10,1078.20 151.50,1069.60" fill="#0000a6"/>
<polygon points="153.60,1078.50 162.20,1087.10 153.60,1095.70 145.00,1087.10" fill="#0000a6"/>
<polygon points="148.00,1093.10 156.60,1101.70 148.00,1110.30 139.40,1101.70" fill="#0000a6"/>
<polygon points="144.80,1106.20 153.40,1114.80 144.80,1123.40 136.20,1114.80" fill="#0000a6"/>
<polygon points="141.60,1117.10 150.20,1125.70 141.60,1134.30 133.00,1125.70" fill="#0000a6"/>
<polygon points="139.00,1128.40 147.60,1137.00 139.00,1145.60 130.40,1137.00" fill="#0000a6"/>
<polygon points="136.40,1137.80 145.00,1146.40 136.40,1155.00 127.80,1146.40" fill="#0000a6"/>
<polygon points="134.60,1144.60 143.20,1153.20 134.60,1161.80 126.00,1153.20" fill="#0000a6"/>
<polygon points="133.30,1149.70 141.90,1158.30 133.30,1166.90 124.70,1158.30" fill="#0000a6"/>
<polygon points="132.10,1154.00 140.70,1162.60 132.10,1171.20 123.50,1162.60" fill="#0000a6"/>
<polygon points="131.86,1156.20 140.46,1164.80 131.86,1173.40 123.26,1164.80" fill="#0000a6"/>
<polygon points="131.62,1158.40 140.22,1167.00 131.62,1175.60 123.03,1167.00" fill="#0000a6"/>
<polygon points="131.39,1160.60 139.99,1169.20 131.39,1177.80 122.79,1169.20" fill="#0000a6"/>
<polygon points="131.15,1162.80 139.75,1171.40 131.15,1180.00 122.55,1171.40" fill="#0000a6"/>
<polygon points="130.91,1165.00 139.51,1173.60 130.91,1182.20 122.31,1173.60" fill="#0000a6"/>
<polygon points="130.67,1167.20 139.27,1175.80 130.67,1184.40 122.07,1175.80" fill="#0000a6"/>
<polygon points="130.44,1169.40 139.04,1178.00 130.44,1186.60 121.84,1178.00" fill="#0000a6"/>
<polygon points="130.20,1171.60 138.80,1180.20 130.20,1188.80 121.60,1180.20" fill="#0000a6"/>
</g>
<text x="118.60" y="670.50" font-size="32.40" letter-spacing="-1.20" text-anchor="end">-2.0</text>
<text x="118.60" y="799.70" font-size="32.40" letter-spacing="-1.20" text-anchor="end">-1.5</text>
<text x="118.60" y="928.90" font-size="32.40" letter-spacing="-1.20" text-anchor="end">-1.0</text>
<text x="118.60" y="1058.10" font-size="32.40" letter-spacing="-1.20" text-anchor="end">-0.5</text>
<text x="118.60" y="1187.30" font-size="32.40" letter-spacing="-1.20" text-anchor="end">0.0</text>
<text x="130.50" y="1214.00" font-size="32.40" letter-spacing="-1.20" text-anchor="middle">0.0</text>
<text x="258.95" y="1214.00" font-size="32.40" letter-spacing="-1.20" text-anchor="middle">0.5</text>
<text x="387.40" y="1214.00" font-size="32.40" letter-spacing="-1.20" text-anchor="middle">1.0</text>
<text x="515.85" y="1214.00" font-size="32.40" letter-spacing="-1.20" text-anchor="middle">1.5</text>
<text x="644.30" y="1214.00" font-size="32.40" letter-spacing="-1.20" text-anchor="middle">2.0</text>
<text x="772.75" y="1214.00" font-size="32.40" letter-spacing="-1.20" text-anchor="middle">2.5</text>
<text transform="translate(357.60,1267.60) scale(0.9787,1)" font-size="40.87">Z</text>
<rect x="380.80" y="1239.40" width="3.0" height="8.6"/>
<text transform="translate(405.61,1267.45) scale(0.9410,1)" font-size="38.83">(</text>
<text transform="translate(417.44,1267.60) scale(0.9924,1)" font-size="39.86">M</text>
<text transform="translate(450.53,1267.60) scale(1.0762,1)" font-size="38.86">&#937;</text>
<text transform="translate(482.77,1267.52) scale(1.0146,1)" font-size="37.82">c</text>
<text transform="translate(500.49,1267.60) scale(1.0298,1)" font-size="37.59">m</text>
<text transform="translate(530.19,1248.60) scale(1.0145,1)" font-size="21.86">2</text>
<text transform="translate(541.44,1267.45) scale(0.9212,1)" font-size="38.83">)</text>
<g transform="translate(41.00,1023.50) rotate(-90)">
<text transform="translate(-1.20,0.00) scale(0.9787,1)" font-size="40.87">Z</text>
<rect x="24.00" y="-28.20" width="2.1" height="10.2"/>
<rect x="28.70" y="-28.20" width="2.1" height="10.2"/>
<text transform="translate(46.81,-0.15) scale(0.9410,1)" font-size="38.83">(</text>
<text transform="translate(58.64,0.00) scale(0.9924,1)" font-size="39.86">M</text>
<text transform="translate(91.73,0.00) scale(1.0762,1)" font-size="38.86">&#937;</text>
<text transform="translate(123.97,-0.08) scale(1.0146,1)" font-size="37.82">c</text>
<text transform="translate(141.69,0.00) scale(1.0298,1)" font-size="37.59">m</text>
<text transform="translate(171.39,-19.00) scale(1.0145,1)" font-size="21.86">2</text>
<text transform="translate(182.64,-0.15) scale(0.9212,1)" font-size="38.83">)</text>
</g>
<text transform="translate(158.09,727.50) scale(1.0828,1)" font-size="48.90">b</text>
<text transform="translate(516.69,1111.80) scale(0.9285,1)" font-size="41.88">E</text>
<text transform="translate(549.37,1110.83) scale(1.0569,1)" font-size="38.44">=</text>
<text transform="translate(579.90,1109.03) scale(1.0217,1)" font-size="32.86">&#8211;</text>
<text transform="translate(596.87,1111.71) scale(1.0504,1)" font-size="38.87">0</text>
<text transform="translate(615.10,1111.80) scale(1.3095,1)" font-size="38.18">.</text>
<text transform="translate(625.14,1111.71) scale(1.0066,1)" font-size="38.87">6</text>
<text transform="translate(646.01,1111.71) scale(1.0236,1)" font-size="38.87">0</text>
<text transform="translate(674.21,1111.80) scale(0.9465,1)" font-size="41.45">V</text>
<text transform="translate(698.13,1125.96) scale(0.9132,1)" font-size="23.52">SCE</text>
<rect x="565.50" y="696.30" width="176.20" height="209.30" fill="#fff" stroke="#000" stroke-width="1.8"/>
<text x="574.50" y="720.80" font-size="22.50" letter-spacing="-1.14">Measurement No.</text>
<text x="654.50" y="747.00" font-size="21.50">1</text>
<text x="654.50" y="772.00" font-size="21.50">2</text>
<text x="654.50" y="797.00" font-size="21.50">3</text>
<text x="654.50" y="822.00" font-size="21.50">4</text>
<text x="654.50" y="847.00" font-size="21.50">5</text>
<text x="654.50" y="872.00" font-size="21.50">6</text>
<text x="654.50" y="897.30" font-size="21.50">7</text>
<rect x="618.60" y="733.20" width="12.60" height="12.60" fill="#000000"/>
<circle cx="624.90" cy="764.50" r="6.80" fill="#ff0000"/>
<polygon points="624.90,779.70 633.40,794.40 616.40,794.40" fill="#2040ff"/>
<polygon points="616.40,809.60 633.40,809.60 624.90,824.30" fill="#2b8f70"/>
<polygon points="615.10,839.50 629.80,831.00 629.80,848.00" fill="#a52df5"/>
<polygon points="620.00,856.00 634.70,864.50 620.00,873.00" fill="#607d10"/>
<polygon points="624.90,881.20 633.50,889.80 624.90,898.40 616.30,889.80" fill="#0000a6"/>
</svg></body></html>
